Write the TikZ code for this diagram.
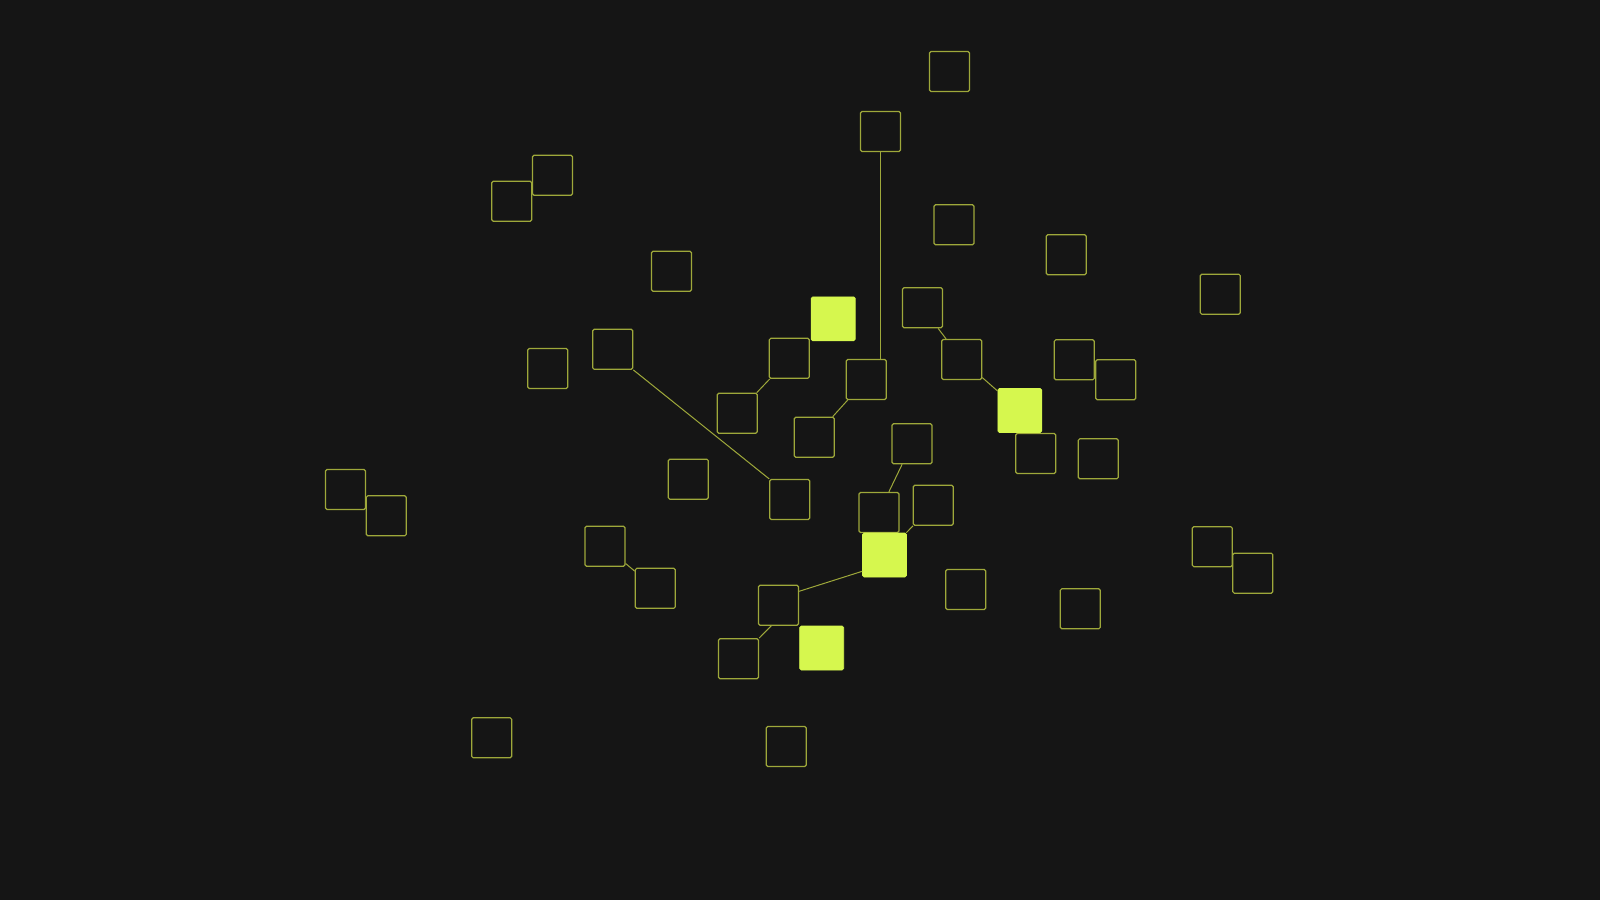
\documentclass[tikz,border=0pt]{standalone}
\usepackage{tikz}
\definecolor{bg}{HTML}{151515}
\definecolor{olive}{HTML}{9EA83A}
\definecolor{lime}{HTML}{D6F74E}
\tikzset{
  box/.style={draw=olive, line width=1.2pt, rounded corners=1.5pt, minimum size=40pt, inner sep=0pt, fill=none},
  hot/.style={fill=lime, draw=lime, line width=0.6pt, rounded corners=1.5pt, minimum size=44pt, inner sep=0pt},
  link/.style={draw=olive, line width=1pt}
}
\begin{document}
\begin{tikzpicture}[x=1pt, y=-1pt]
\fill[bg] (0,0) rectangle (1600,900);
\useasboundingbox (0,0) rectangle (1600,900);
% outlined boxes
\node[box] (b1)  at (949.5,71.5) {};
\node[box] (b2)  at (880.5,131.5) {};
\node[box] (b3a) at (552.5,175.3) {};
\node[box] (b3b) at (511.7,201.2) {};
\node[box] (b4)  at (954,224.7) {};
\node[box] (b5)  at (1066.2,254.8) {};
\node[box] (b6)  at (671.5,271.3) {};
\node[box] (b7)  at (1220.3,294.2) {};
\node[box] (b9)  at (922.5,307.8) {};
\node[box] (b10) at (612.7,349.3) {};
\node[box] (b11) at (547.8,368.5) {};
\node[box] (b12) at (789.3,358.3) {};
\node[box] (b13) at (866.2,379.5) {};
\node[box] (b14) at (961.7,359.5) {};
\node[box] (b15a) at (1074.3,359.8) {};
\node[box] (b15b) at (1115.7,379.8) {};
\node[box] (b17) at (737.2,413.3) {};
\node[box] (b18) at (814.2,437.2) {};
\node[box] (b19) at (912,443.7) {};
\node[box] (b20) at (1035.7,453.5) {};
\node[box] (b21) at (1098.3,458.8) {};
\node[box] (b22a) at (345.5,489.5) {};
\node[box] (b22b) at (386.3,515.8) {};
\node[box] (b23) at (688.3,479.2) {};
\node[box] (b24) at (789.8,499.5) {};
\node[box] (b25) at (879,512.5) {};
\node[box] (b26) at (933.2,505.2) {};
\node[box] (b28) at (605,546.3) {};
\node[box] (b29) at (655.3,588.3) {};
\node[box] (b30a) at (1212.3,546.7) {};
\node[box] (b30b) at (1252.8,573.2) {};
\node[box] (b31) at (965.8,589.5) {};
\node[box] (b32) at (1080.3,608.8) {};
\node[box] (b33) at (778.5,605.2) {};
\node[box] (b35) at (738.5,658.7) {};
\node[box] (b36) at (491.7,737.8) {};
\node[box] (b37) at (786.2,746.5) {};
% highlighted boxes
\node[hot] (g8)  at (833.2,318.8) {};
\node[hot] (g16) at (1019.8,410.5) {};
\node[hot] (g27) at (884.5,555) {};
\node[hot] (g34) at (821.7,648) {};
% connectors
\draw[link] (b2.south) -- (b2.south |- b13.north);
\draw[link] (b9) -- (b14);
\draw[link] (b12) -- (b17);
\draw[link] (b13) -- (b18);
\draw[link] (b14) -- (g16);
\draw[link] (b10.south east) -- (b24.north west);
\draw[link] (b19) -- (b25);
\draw[link] (b26) -- (g27);
\draw[link] ([yshift=-16.3pt]g27.west) -- ([yshift=13.9pt]b33.east);
\draw[link] (b28) -- (b29);
\draw[link] ([xshift=-7.2pt]b33.south) -- (b35.north east);
\end{tikzpicture}
\end{document}
